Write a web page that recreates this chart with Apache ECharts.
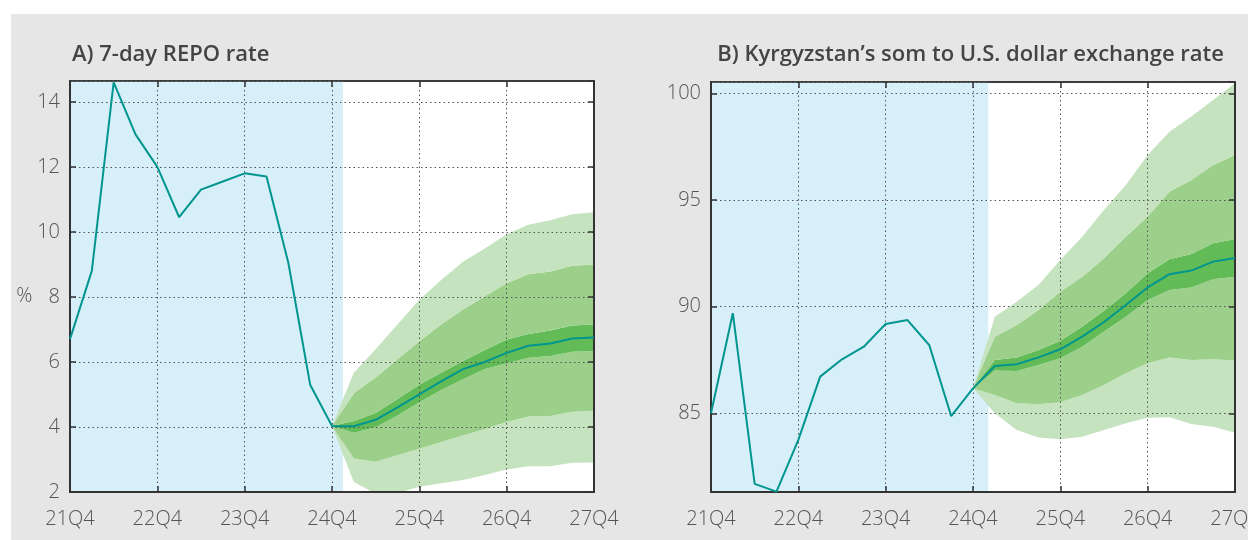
<!DOCTYPE html>
<html lang="en">
<head>
  <meta charset="UTF-8">
  <script src="https://cdn.jsdelivr.net/npm/echarts@6/dist/echarts.min.js"></script>
  <title>REPO rate and som exchange rate</title>
  <style>
    body { margin: 0; background: #fff; }
    #main { position: absolute; left: 11px; top: 14px; width: 1237px; height: 526px; background: #e6e6e6; }
  </style>
</head>
<body>
  <div id="main"></div>
  <script type="text/javascript">
    // quarters on the x axis, index 0 = 21Q4
    var quarters = ['21Q4', '22Q1', '22Q2', '22Q3', '22Q4', '23Q1', '23Q2', '23Q3', '23Q4',
      '24Q1', '24Q2', '24Q3', '24Q4', '25Q1', '25Q2', '25Q3', '25Q4', '26Q1', '26Q2', '26Q3',
      '26Q4', '27Q1', '27Q2', '27Q3', '27Q4'];
    var fanStart = 12; // forecast fan starts at 24Q4

    // A) 7-day REPO rate, %
    var repoRate = [6.7, 8.8, 14.6, 13.0, 12.0, 10.45, 11.3, 11.55, 11.8, 11.7, 9.05, 5.3, 4.03,
      4.02, 4.22, 4.6, 5.0, 5.4, 5.78, 6.0, 6.28, 6.5, 6.57, 6.72, 6.75];
    var repoOuterUp = [4.03, 5.67, 6.39, 7.15, 7.91, 8.52, 9.08, 9.49, 9.93, 10.22, 10.36, 10.54, 10.6];
    var repoMidUp = [4.03, 5.04, 5.52, 6.08, 6.64, 7.15, 7.61, 8.02, 8.42, 8.7, 8.78, 8.96, 9.0];
    var repoInnerUp = [4.03, 4.18, 4.43, 4.86, 5.3, 5.67, 6.03, 6.37, 6.69, 6.86, 6.97, 7.12, 7.15];
    var repoInnerLow = [4.03, 3.82, 3.99, 4.35, 4.76, 5.14, 5.47, 5.78, 5.95, 6.13, 6.18, 6.31, 6.34];
    var repoMidLow = [4.03, 3.03, 2.93, 3.13, 3.33, 3.54, 3.74, 3.94, 4.15, 4.32, 4.34, 4.47, 4.5];
    var repoOuterLow = [4.03, 2.31, 1.95, 1.97, 2.16, 2.27, 2.37, 2.52, 2.69, 2.79, 2.79, 2.9, 2.91];
    var repoHistEnd = 12.5;

    // B) som per U.S. dollar
    var somRate = [85.0, 89.69, 81.69, 81.33, 83.75, 86.72, 87.53, 88.12, 89.19, 89.37, 88.19, 84.87, 86.17,
      87.22, 87.3, 87.62, 88.0, 88.59, 89.28, 90.08, 90.9, 91.52, 91.69, 92.11, 92.28];
    var somOuterUp = [86.17, 89.53, 90.23, 91.01, 92.19, 93.28, 94.53, 95.7, 97.11, 98.2, 98.91, 99.69, 100.47];
    var somMidUp = [86.17, 88.59, 89.14, 89.84, 90.7, 91.4, 92.27, 93.28, 94.22, 95.39, 95.94, 96.64, 97.11];
    var somInnerUp = [86.17, 87.5, 87.62, 87.97, 88.4, 89.06, 89.81, 90.63, 91.56, 92.22, 92.47, 92.97, 93.17];
    var somInnerLow = [86.17, 87.0, 86.98, 87.26, 87.58, 88.12, 88.83, 89.53, 90.31, 90.78, 90.9, 91.28, 91.4];
    var somMidLow = [86.17, 85.86, 85.47, 85.42, 85.52, 85.86, 86.33, 86.88, 87.34, 87.62, 87.5, 87.53, 87.47];
    var somOuterLow = [86.17, 85.0, 84.22, 83.86, 83.78, 83.9, 84.22, 84.53, 84.79, 84.81, 84.5, 84.37, 84.09];
    var somHistEnd = 12.7;

    var FONT = 'Open Sans';
    var TXT = '#555';
    var LINE = '#00958f';
    var C_LIGHT = '#c5e3bf', C_MID = '#9cd08a', C_DARK = '#62bb56';
    var HIST_BG = '#d7eff9';

    var myChart = echarts.init(document.getElementById('main'));

    function pairs(arr) {
      return arr.map(function (v, i) { return [i, v]; });
    }
    // layer thickness a - b, padded with '-' before the fan starts
    function layer(a, b) {
      var pad = [];
      for (var i = 0; i < fanStart; i++) pad.push('-');
      return pad.concat(a.map(function (v, i) { return b ? +(v - b[i]).toFixed(3) : v; }));
    }

    // stacked bands on the category axis: base, then light / mid / dark / mid / light
    function fanSeries(xi, yi, low3, low2, low1, up1, up2, up3) {
      var layers = [
        [layer(low3, null), null],
        [layer(low2, low3), C_LIGHT],
        [layer(low1, low2), C_MID],
        [layer(up1, low1), C_DARK],
        [layer(up2, up1), C_MID],
        [layer(up3, up2), C_LIGHT]
      ];
      return layers.map(function (l) {
        return {
          type: 'line', xAxisIndex: xi, yAxisIndex: yi, stack: 'fan' + xi,
          data: l[0], symbol: 'none', silent: true, z: 2,
          lineStyle: { width: 0, opacity: 0 },
          areaStyle: l[1] ? { color: l[1], opacity: 1 } : null
        };
      });
    }

    var tickStyle = { color: '#333', width: 1.5 };
    var gridLine = { show: true, lineStyle: { color: '#555', type: [1.5, 3], width: 1 } };
    var labelStyle = { color: TXT, fontFamily: FONT, fontSize: 20, fontWeight: 300 };

    function xAxes(idx) {
      return [{
        type: 'category', gridIndex: idx, data: quarters, boundaryGap: false, z: 3,
        axisLine: { lineStyle: { color: '#333', width: 2 } },
        axisTick: { inside: true, length: 6, interval: 3, lineStyle: tickStyle },
        axisLabel: Object.assign({ interval: 3, margin: 17 }, labelStyle),
        splitLine: Object.assign({ interval: 3 }, gridLine)
      }, {
        // value twin on top: carries the line and the history shading, ticks only
        type: 'value', gridIndex: idx, position: 'top', min: 0, max: quarters.length - 1, interval: 4, z: 3,
        axisLine: { lineStyle: { color: '#333', width: 1.5 } },
        axisTick: { inside: true, length: 6, lineStyle: tickStyle },
        axisLabel: { show: false }, splitLine: { show: false }
      }];
    }

    function yAxes(idx, min, max, interval, name) {
      var main = {
        type: 'value', gridIndex: idx, min: min, max: max, z: 3,
        axisLine: { show: true, lineStyle: { color: '#333', width: 2 } },
        axisTick: { show: true, inside: true, length: 6, lineStyle: tickStyle },
        axisLabel: Object.assign({ margin: 10, showMinLabel: interval ? true : false, showMaxLabel: false }, labelStyle),
        splitLine: gridLine
      };
      if (interval) main.interval = interval; else main.splitNumber = 4;
      if (name) {
        main.name = name;
        main.nameLocation = 'middle';
        main.nameRotate = 0;
        main.nameGap = 33;
        main.nameTextStyle = Object.assign({ verticalAlign: 'top' }, labelStyle);
      }
      var mirror = {
        type: 'value', gridIndex: idx, position: 'right', min: min, max: max, z: 3,
        axisLine: { show: true, lineStyle: { color: '#333', width: 2 } },
        axisTick: { show: true, inside: true, length: 6, lineStyle: tickStyle },
        axisLabel: { show: false }, splitLine: { show: false }
      };
      if (interval) mirror.interval = interval; else mirror.splitNumber = 4;
      return [main, mirror];
    }

    function mainLine(xi, yi, data, histEnd) {
      return {
        type: 'line', xAxisIndex: xi, yAxisIndex: yi, data: pairs(data),
        symbol: 'none', z: 5, lineStyle: { color: LINE, width: 2 },
        markArea: {
          silent: true, z: 1,
          itemStyle: { color: HIST_BG },
          data: [[{ xAxis: 0 }, { xAxis: histEnd }]]
        }
      };
    }

    var titleStyle = { fontFamily: FONT, fontSize: 22, fontWeight: 600, color: '#444' };

    var option = {
      animation: false,
      title: [
        { text: 'A) 7-day REPO rate', left: 56, top: 25, textStyle: titleStyle },
        { text: 'B) Kyrgyzstan\u2019s som to U.S. dollar exchange rate', right: 19, top: 25, textStyle: titleStyle }
      ],
      grid: [
        { left: 59, top: 67, width: 524, height: 411, show: true, backgroundColor: '#fff',
          borderColor: '#333', borderWidth: 1.5, containLabel: false, outerBoundsMode: 'none' },
        { left: 700, top: 68, width: 524, height: 410, show: true, backgroundColor: '#fff',
          borderColor: '#333', borderWidth: 1.5, containLabel: false, outerBoundsMode: 'none' }
      ],
      xAxis: xAxes(0).concat(xAxes(1)),
      yAxis: yAxes(0, 2, 14.64, 2, '%').concat(yAxes(1, 81.31, 100.53, null, null)),
      series: [mainLine(1, 0, repoRate, repoHistEnd), mainLine(3, 2, somRate, somHistEnd)]
        .concat(fanSeries(0, 0, repoOuterLow, repoMidLow, repoInnerLow, repoInnerUp, repoMidUp, repoOuterUp))
        .concat(fanSeries(2, 2, somOuterLow, somMidLow, somInnerLow, somInnerUp, somMidUp, somOuterUp))
    };

    myChart.setOption(option);
  </script>
</body>
</html>
